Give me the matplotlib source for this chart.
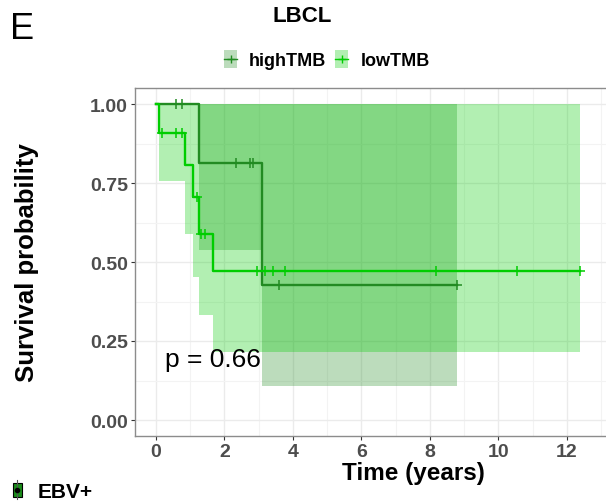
import numpy as np
import matplotlib
matplotlib.use("Agg")
import matplotlib.pyplot as plt
from matplotlib.patches import Rectangle
from matplotlib.lines import Line2D

plt.rcParams['font.family'] = ['Liberation Sans', 'DejaVu Sans']

# --- KM estimates (time in years) ---
high_time = [0.0, 1.26, 3.10, 8.78]
high_surv = [1.0, 0.8125, 0.427, 0.427]
high_lower = [1.0, 0.538, 0.108, 0.108]
high_upper = [1.0, 1.0, 1.0, 1.0]
high_censor = [0.60, 0.75, 2.35, 2.76, 2.84, 3.60, 8.78]

low_time = [0.0, 0.09, 0.85, 1.09, 1.26, 1.67, 12.38]
low_surv = [1.0, 0.909, 0.808, 0.707, 0.589, 0.471, 0.471]
low_lower = [1.0, 0.755, 0.589, 0.453, 0.333, 0.216, 0.216]
low_upper = [1.0, 1.0, 1.0, 1.0, 1.0, 1.0, 1.0]
low_censor = [0.17, 0.60, 0.75, 1.19, 1.33, 1.43, 2.94, 3.18, 3.43, 3.77,
              8.19, 10.55, 12.38]

groups = ["highTMB", "lowTMB"]
colors = {"highTMB": "#228B22", "lowTMB": "#00CD00"}
pval_text = "p = 0.66"
x_ticks = [0, 2, 4, 6, 8, 10, 12]
y_ticks = [0.00, 0.25, 0.50, 0.75, 1.00]

W, H = 606, 502


def fx(x):
    return x / W


def fy(y):
    return 1 - y / H


fig = plt.figure(figsize=(W / 100, H / 100), dpi=100)
ax = fig.add_axes([fx(135), fy(436.8), (635.5 - 135) / W, (436.8 - 89.2) / H])
ax.set_xlim(-0.61, 14)
ax.set_ylim(-0.05, 1.05)


def step_at(times, surv, t):
    idx = np.searchsorted(times, t, side='right') - 1
    return np.asarray(surv)[idx]


series = {
    "highTMB": (high_time, high_surv, high_lower, high_upper, high_censor),
    "lowTMB": (low_time, low_surv, low_lower, low_upper, low_censor),
}

# confidence bands
for g in groups:
    t, s, lo, up, cens = series[g]
    ax.fill_between(t, lo, up, step='post', color=colors[g], alpha=0.3,
                    linewidth=0, zorder=2)

# survival curves + censor marks
for g in groups:
    t, s, lo, up, cens = series[g]
    ax.step(t, s, where='post', color=colors[g], lw=1.7, zorder=3)
    ax.plot(cens, step_at(t, s, cens), ls='none', marker='+', ms=7, mew=1.1,
            color=colors[g], zorder=4)

ax.text(0.26, 0.171, pval_text, fontsize=19, va='baseline', ha='left', zorder=5)

# grid / axes styling
ax.set_xticks(x_ticks)
ax.set_yticks(y_ticks)
ax.set_xticks(np.arange(1, 15, 2), minor=True)
ax.set_yticks([0.125, 0.375, 0.625, 0.875], minor=True)
ax.grid(True, which='major', color='#EBEBEB', lw=1.0, zorder=0)
ax.grid(True, which='minor', color='#F3F3F3', lw=0.8, zorder=0)
ax.set_axisbelow(True)
ax.tick_params(which='minor', length=0)
ax.tick_params(which='major', length=3, width=0.8, color='#333333',
               labelcolor='#4D4D4D', labelsize=14, pad=2)
ax.set_xticklabels([str(v) for v in x_ticks], fontweight='bold')
ax.set_yticklabels([f"{v:.2f}" for v in y_ticks], fontweight='bold')
for side in ['left', 'bottom', 'top']:
    ax.spines[side].set_color('#8C8C8C')
    ax.spines[side].set_linewidth(1.0)
ax.spines['right'].set_visible(False)

# titles
fig.text(fx(10), fy(39), "E", fontsize=26, ha='left', va='baseline')
fig.text(fx(301.7), fy(22), "LBCL", fontsize=16, fontweight='bold',
         ha='center', va='baseline')
fig.text(fx(413), fy(480), "Time (years)", fontsize=17.5, fontweight='bold',
         ha='center', va='baseline')
fig.text(fx(27.5), fy(263), "Survival probability", fontsize=18.5,
         fontweight='bold', rotation=90, ha='center', va='center')

# legend on top
for g, kx, tx in [("highTMB", 224, 249), ("lowTMB", 335, 361)]:
    fig.patches.append(Rectangle((fx(kx), fy(69)), 13 / W, 18 / H,
                                 transform=fig.transFigure, facecolor=colors[g],
                                 alpha=0.3, edgecolor='none'))
    fig.lines.append(Line2D([fx(kx), fx(kx + 13)], [fy(60), fy(60)],
                            transform=fig.transFigure, color=colors[g], lw=1.0))
    fig.lines.append(Line2D([fx(kx + 6.5)], [fy(60)], transform=fig.transFigure,
                            color=colors[g], marker='+', ms=6, mew=1.0, ls='none'))
    fig.text(fx(tx), fy(66), g, fontsize=13, fontweight='bold', ha='left',
             va='baseline')

# EBV+ key at the bottom left
fig.lines.append(Line2D([fx(17.3), fx(17.3)], [fy(481), fy(500)],
                        transform=fig.transFigure, color='#555555', lw=0.8))
fig.patches.append(Rectangle((fx(12.7), fy(497.5)), 9.3 / W, 14 / H,
                             transform=fig.transFigure, facecolor='#1A8C1A',
                             edgecolor='black', lw=0.8))
fig.lines.append(Line2D([fx(17.3)], [fy(490.5)], transform=fig.transFigure,
                        color='black', marker='o', ms=3, ls='none'))
fig.text(fx(38), fy(498), "EBV+", fontsize=15, fontweight='bold', ha='left',
         va='baseline')

fig.savefig("out.png", dpi=100)
